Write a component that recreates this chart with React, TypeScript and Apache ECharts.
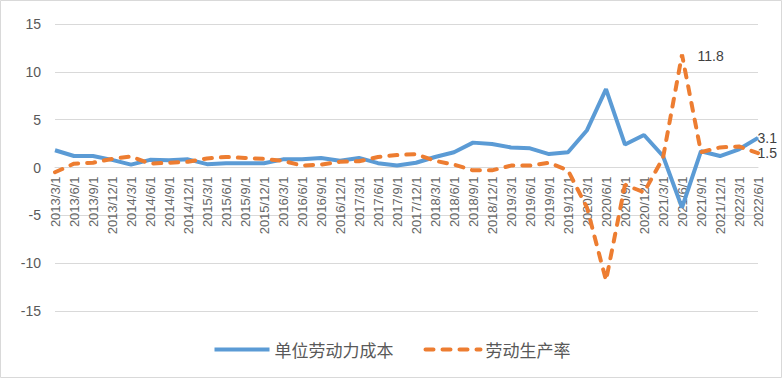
import React, { useEffect, useRef } from "react";
import * as echarts from "echarts";

const categories: string[] = [
  "2013/3/1", "2013/6/1", "2013/9/1", "2013/12/1",
  "2014/3/1", "2014/6/1", "2014/9/1", "2014/12/1",
  "2015/3/1", "2015/6/1", "2015/9/1", "2015/12/1",
  "2016/3/1", "2016/6/1", "2016/9/1", "2016/12/1",
  "2017/3/1", "2017/6/1", "2017/9/1", "2017/12/1",
  "2018/3/1", "2018/6/1", "2018/9/1", "2018/12/1",
  "2019/3/1", "2019/6/1", "2019/9/1", "2019/12/1",
  "2020/3/1", "2020/6/1", "2020/9/1", "2020/12/1",
  "2021/3/1", "2021/6/1", "2021/9/1", "2021/12/1",
  "2022/3/1", "2022/6/1",
];

const unitLaborCost: number[] = [
  1.8, 1.2, 1.2, 0.8, 0.3, 0.8, 0.75, 0.85, 0.35, 0.45, 0.45, 0.45,
  0.85, 0.85, 1.0, 0.7, 1.0, 0.45, 0.2, 0.5,
  1.1, 1.6, 2.6, 2.45, 2.1, 2.0, 1.4, 1.6,
  3.9, 8.2, 2.4, 3.4, 1.2, -4.2, 1.7, 1.2, 1.9, 3.1,
];

const productivity: number[] = [
  -0.5, 0.4, 0.5, 0.9, 1.15, 0.4, 0.5, 0.6, 0.95, 1.1, 1.0, 0.9,
  0.7, 0.2, 0.3, 0.6, 0.65, 1.1, 1.3, 1.4,
  0.7, 0.3, -0.3, -0.3, 0.2, 0.2, 0.5, -0.3,
  -4.2, -11.8, -1.8, -2.6, 1.0, 11.8, 1.6, 2.1, 2.2, 1.5,
];

const seriesNames = ["单位劳动力成本", "劳动生产率"];
const yTicks = { min: -15, max: 15, interval: 5 };

const GRID_TOP = 24;
const GRID_BOTTOM = 68;
const CHART_H = 379;

export default function App() {
  const ref = useRef<HTMLDivElement>(null);
  useEffect(() => {
    document.body.style.margin = "0";
    if (!ref.current) return;
    const chart = echarts.init(ref.current, null, { renderer: "svg" });
    const last = categories.length - 1;
    const maxIdx = productivity.indexOf(Math.max(...productivity));
    const plotH = CHART_H - GRID_TOP - GRID_BOTTOM;
    const zeroOffset = -(plotH * (0 - yTicks.min)) / (yTicks.max - yTicks.min);
    const labelStyle = {
      show: true,
      position: "right" as const,
      color: "#404040",
      fontSize: 14,
      fontFamily: "Liberation Sans, Arial, sans-serif",
      formatter: (p: any) => String(p.value),
    };
    const labeled = (v: number, color: string, offset: number[]) => ({
      value: v,
      symbol: "circle",
      symbolSize: 1,
      itemStyle: { color },
      label: { ...labelStyle, offset },
    });
    chart.setOption({
      animation: false,
      backgroundColor: "#fff",
      textStyle: { fontFamily: "Noto Sans CJK SC, sans-serif" },
      grid: { left: 55, right: 25, top: GRID_TOP, bottom: GRID_BOTTOM },
      xAxis: {
        type: "category",
        data: categories,
        boundaryGap: false,
        position: "bottom",
        offset: zeroOffset,
        axisLine: { onZero: false, lineStyle: { color: "#d9d9d9", width: 1 } },
        axisTick: { show: false },
        axisLabel: {
          interval: 0,
          rotate: 90,
          color: "#666666",
          fontSize: 13,
          fontFamily: "Liberation Sans, Arial, sans-serif",
          margin: 9,
        },
        splitLine: { show: false },
      },
      yAxis: {
        type: "value",
        min: yTicks.min,
        max: yTicks.max,
        interval: yTicks.interval,
        axisLine: { show: false },
        axisTick: { show: false },
        axisLabel: {
          color: "#595959",
          fontSize: 14,
          fontFamily: "Liberation Sans, Arial, sans-serif",
          margin: 14,
        },
        splitLine: { lineStyle: { color: "#d9d9d9", width: 1 } },
      },
      legend: {
        bottom: 16,
        left: "center",
        itemWidth: 55,
        itemHeight: 14,
        itemGap: 30,
        itemStyle: { opacity: 0 },
        lineStyle: { width: 4 },
        textStyle: { color: "#595959", fontSize: 17, fontFamily: "Noto Sans CJK SC, sans-serif" },
        data: seriesNames,
      },
      series: [
        {
          name: seriesNames[0],
          type: "line",
          symbol: "none",
          lineStyle: { color: "#5B9BD5", width: 4 },
          itemStyle: { color: "#5B9BD5" },
          data: unitLaborCost.map((v, i) =>
            i === last ? labeled(v, "#5B9BD5", [-6, 0]) : v
          ),
          z: 2,
        },
        {
          name: seriesNames[1],
          type: "line",
          symbol: "none",
          lineStyle: { color: "#ED7D31", width: 4, type: [8, 9], cap: "round" },
          itemStyle: { color: "#ED7D31" },
          data: productivity.map((v, i) =>
            i === last
              ? labeled(v, "#ED7D31", [-6, 0])
              : i === maxIdx
              ? labeled(v, "#ED7D31", [10, 1])
              : v
          ),
          z: 3,
        },
      ],
      graphic: [
        {
          type: "rect",
          shape: { x: 0.5, y: 0.5, width: 781, height: 377 },
          style: { fill: "none", stroke: "#d9d9d9", lineWidth: 1 },
          silent: true,
        },
      ],
    });
    return () => chart.dispose();
  }, []);
  return <div ref={ref} style={{ width: 783, height: 379 }} />;
}
